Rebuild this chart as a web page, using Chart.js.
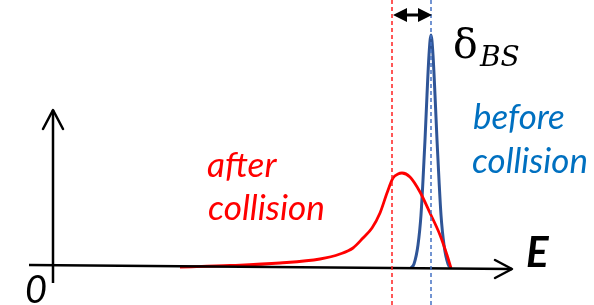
<!DOCTYPE html>
<html><head><meta charset="utf-8">
<script src="https://cdn.jsdelivr.net/npm/chart.js@4/dist/chart.umd.min.js"></script>
<style>html,body{margin:0;padding:0;background:#fff;}#c{display:block;}</style>
</head><body>
<canvas id="c" width="594" height="305"></canvas>
<script>
// Energy (E) and intensity (I), arbitrary units
const afterE  = [127, 177, 227, 267, 287, 300, 310, 319, 327, 334, 340, 345, 349, 357, 367, 377, 387, 394, 398];
const afterI  = [1, 2.5, 5, 9, 14, 20, 30, 40, 55, 75, 90, 94, 95, 91, 76, 55, 33, 13, 0];
const beforeE = [358, 361, 365, 368, 370, 372, 374, 376, 378, 380, 382, 384, 386, 388, 391, 395, 398];
const beforeI = [0, 4, 23, 53, 88, 128, 173, 213, 233, 213, 173, 128, 88, 53, 23, 4, 0];
const afterRefE = 339;   // red dashed line
const beforeRefE = 378;  // blue dashed line
const axisE = [-24, 459];
const axisI = [3, -1];
const yAxisI = [-15, 158];
const labels = { after: ["after", "collision"], before: ["before", "collision"], shift: ["δ", "BS"], energy: "E", origin: "0" };

const pts = (xs, ys) => xs.map((x, i) => ({ x, y: ys[i] }));
const vline = e => [{ x: e, y: -37 }, { x: e, y: 268 }];

const overlay = {
  id: 'overlay',
  afterDatasetsDraw(chart) {
    const ctx = chart.ctx, X = chart.scales.x, Y = chart.scales.y;
    const px = v => X.getPixelForValue(v), py = v => Y.getPixelForValue(v);
    ctx.save();
    ctx.strokeStyle = '#000'; ctx.fillStyle = '#000'; ctx.lineWidth = 2.5;
    ctx.lineCap = 'round'; ctx.lineJoin = 'round';
    // x-axis arrow head
    const tx = px(axisE[1]), ty = py(axisI[1]);
    ctx.beginPath(); ctx.moveTo(tx - 17, ty - 9); ctx.lineTo(tx, ty); ctx.lineTo(tx - 17, ty + 9); ctx.stroke();
    // y-axis arrow head
    const vx = px(0), vy = py(yAxisI[1]);
    ctx.beginPath(); ctx.moveTo(vx - 10, vy + 19); ctx.lineTo(vx, vy); ctx.lineTo(vx + 10, vy + 19); ctx.stroke();
    // double arrow between reference lines
    const a = px(afterRefE) + 1, b = px(beforeRefE) + 1, ay = 15;
    ctx.lineWidth = 3;
    ctx.beginPath(); ctx.moveTo(a + 10, ay); ctx.lineTo(b - 10, ay); ctx.stroke();
    ctx.beginPath(); ctx.moveTo(a, ay); ctx.lineTo(a + 14, ay - 7); ctx.lineTo(a + 14, ay + 7); ctx.closePath(); ctx.fill();
    ctx.beginPath(); ctx.moveTo(b, ay); ctx.lineTo(b - 14, ay - 7); ctx.lineTo(b - 14, ay + 7); ctx.closePath(); ctx.fill();
    // texts
    ctx.textBaseline = 'alphabetic'; ctx.textAlign = 'left';
    const fit = (t, w, style, fam) => {
      let s = 30; ctx.font = style + ' ' + s + 'px ' + fam;
      s = s * w / ctx.measureText(t).width; ctx.font = style + ' ' + s + 'px ' + fam; return s;
    };
    const fam = 'Lato, "Noto Sans", sans-serif';
    ctx.fillStyle = '#FF0000';
    fit('collision', 117, 'italic', fam);
    ctx.fillText(labels.after[0], 207, 177);
    ctx.fillText(labels.after[1], 208, 220);
    ctx.fillStyle = '#0070C0';
    fit('collision', 116, 'italic', fam);
    ctx.fillText(labels.before[0], 473, 129);
    ctx.fillText(labels.before[1], 472, 173);
    ctx.fillStyle = '#000';
    ctx.font = '41px "DejaVu Serif", serif';
    ctx.fillText(labels.shift[0], 453, 58);
    ctx.font = 'italic 28px "DejaVu Serif", serif';
    ctx.fillText(labels.shift[1], 480, 66);
    ctx.font = 'italic bold 42px ' + fam;
    ctx.fillText(labels.energy, 526, 267);
    ctx.font = 'italic 38px ' + fam;
    ctx.fillText(labels.origin, 25, 303);
    ctx.restore();
  }
};

new Chart(document.getElementById('c'), {
  type: 'scatter',
  data: {
    datasets: [
      { data: vline(afterRefE), showLine: true, borderColor: '#FF2020', borderWidth: 1.5, borderDash: [4, 3], pointRadius: 0 },
      { data: vline(beforeRefE), showLine: true, borderColor: '#4472C4', borderWidth: 1.5, borderDash: [4, 3], pointRadius: 0 },
      { data: pts(axisE, axisI), showLine: true, borderColor: '#000', borderWidth: 2.5, pointRadius: 0 },
      { data: pts([0, 0], yAxisI), showLine: true, borderColor: '#000', borderWidth: 2.5, pointRadius: 0 },
      { data: pts(afterE, afterI), showLine: true, borderColor: '#FF0000', borderWidth: 2.8, pointRadius: 0, cubicInterpolationMode: 'monotone' },
      { data: pts(beforeE, beforeI), showLine: true, borderColor: '#2F5597', borderWidth: 3, pointRadius: 0, cubicInterpolationMode: 'monotone' }
    ]
  },
  options: {
    responsive: false, animation: false, devicePixelRatio: 1,
    layout: { padding: 0 },
    plugins: { legend: { display: false }, tooltip: { enabled: false } },
    scales: {
      x: { type: 'linear', min: -53, max: 541, display: false },
      y: { type: 'linear', min: -37, max: 268, display: false }
    }
  },
  plugins: [overlay]
});
</script>
</body></html>
